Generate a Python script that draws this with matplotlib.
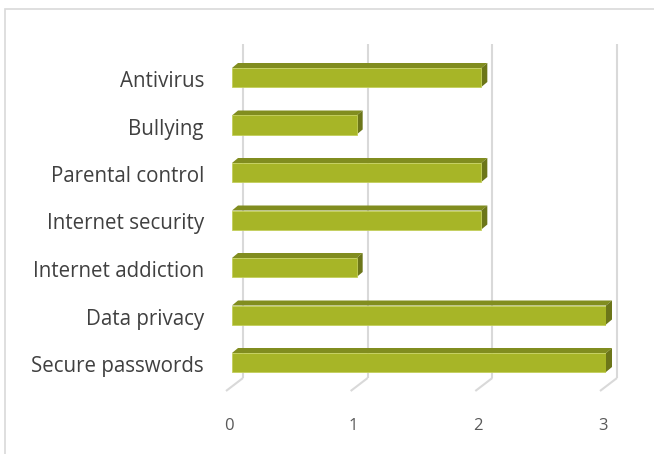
import matplotlib
matplotlib.use('Agg')
from matplotlib import pyplot as plt
from matplotlib.patches import Polygon, Rectangle

categories = ['Secure passwords', 'Data privacy', 'Internet addiction',
              'Internet security', 'Parental control', 'Bullying', 'Antivirus']
values = [3, 3, 1, 2, 2, 1, 2]
ticks = [0, 1, 2, 3]

W, H = 654, 454
fig = plt.figure(figsize=(W / 100, H / 100), dpi=100)

# plot area in pixels (from top-left)
left_px, right_px = 232, 606
top_px, bottom_px = 53.75, 386.25
ax = fig.add_axes([left_px / W, 1 - bottom_px / H,
                   (right_px - left_px) / W, (bottom_px - top_px) / H])
ax.set_xlim(0, 3)
ax.set_ylim(-0.5, len(categories) - 0.5)
ax.axis('off')

px_x = (right_px - left_px) / 3.0
px_y = (bottom_px - top_px) / len(categories)

def dx(p):
    return p / px_x

def dy(p):
    return p / px_y

grid_col = '#d9d9d9'
y_floor_back = -0.5 + dy(8.25)
y_floor_front = -0.5 - dy(4.75)
y_grid_top = len(categories) - 0.5 + dy(9.75)

# gridlines on back wall plus floor edge
for t in ticks:
    xb = t + dx(11)
    ax.plot([xb, xb], [y_floor_back, y_grid_top], color=grid_col, lw=1.5,
            clip_on=False, zorder=1, solid_capstyle='butt')
    ax.plot([xb, t - dx(6)], [y_floor_back, y_floor_front], color=grid_col,
            lw=1.5, clip_on=False, zorder=1, solid_capstyle='butt')
    ax.text(t - dx(3), -0.5 - dy(39.5), str(t), ha='center', va='center',
            fontsize=12, color='#595959', family='Open Sans')

# 3D bars
bh = 0.4
ox, oy = dx(6), dy(5)
front_col = '#a7b527'
top_col = '#818d1f'
side_col = '#6c7619'
for i, v in enumerate(values):
    yt = i + bh / 2
    yb = i - bh / 2
    ax.add_patch(Polygon([(0, yt), (v, yt), (v + ox, yt + oy), (ox, yt + oy)],
                         closed=True, facecolor=top_col, edgecolor='none',
                         zorder=3, clip_on=False))
    ax.add_patch(Polygon([(v, yb), (v, yt), (v + ox, yt + oy), (v + ox, yb + oy)],
                         closed=True, facecolor=side_col, edgecolor='none',
                         zorder=3, clip_on=False))
ax.barh(range(len(values)), values, height=bh, color=front_col,
        edgecolor='#c3cf5a', linewidth=0.6, zorder=4)

for i, c in enumerate(categories):
    ax.text(-dx(28), i - dy(4), c, ha='right', va='center', fontsize=14.8,
            color='#404040', family='Open Sans')

# chart border
fig.patches.append(Rectangle((5 / W, -0.1), 1.2, 1 - 9 / H + 0.1,
                             transform=fig.transFigure, fill=False,
                             edgecolor='#d9d9d9', lw=1.2))

fig.savefig('out.png', dpi=100)
